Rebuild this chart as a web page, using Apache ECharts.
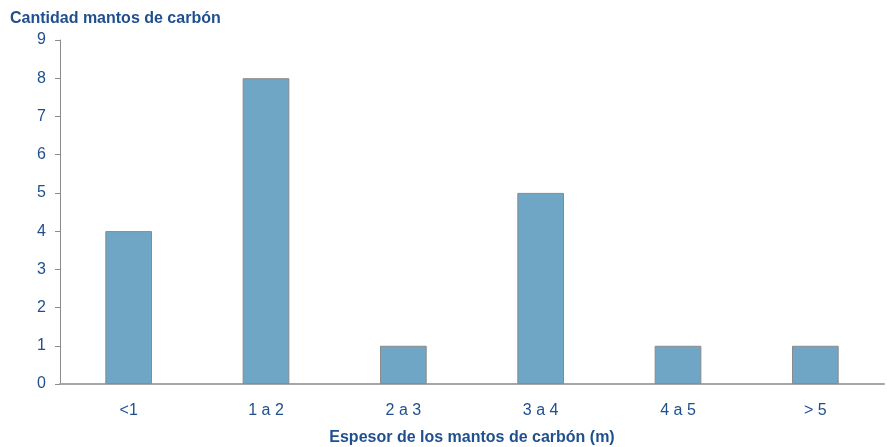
<!DOCTYPE html>
<html>
<head>
<meta charset="utf-8">
<script src="https://cdn.jsdelivr.net/npm/echarts@6/dist/echarts.min.js"></script>
<style>
  html, body { margin: 0; padding: 0; background: #fff; }
  #chart { width: 887px; height: 447px; }
</style>
</head>
<body>
<div id="chart"></div>
<script>
// Coal seam count by thickness class
const categories = ['<1', '1 a 2', '2 a 3', '3 a 4', '4 a 5', '> 5'];
const seamCounts = [4, 8, 1, 5, 1, 1];

const textBlue = '#1f4f8f';
const chart = echarts.init(document.getElementById('chart'));
chart.setOption({
  animation: false,
  textStyle: { fontFamily: 'Liberation Sans, Arial, sans-serif' },
  title: {
    text: 'Cantidad mantos de carbón',
    left: 5, top: 6,
    textStyle: { color: textBlue, fontSize: 16, fontWeight: 'bold', fontFamily: 'Liberation Sans, Arial, sans-serif' }
  },
  grid: { left: 60, right: 3, top: 40, bottom: 63, containLabel: false, outerBoundsMode: 'none' },
  xAxis: {
    type: 'category',
    data: categories,
    name: 'Espesor de los mantos de carbón (m)',
    nameLocation: 'middle',
    nameGap: 46,
    nameTextStyle: { color: textBlue, fontSize: 16, fontWeight: 'bold' },
    axisLine: { lineStyle: { color: '#a6a6a6', width: 2 } },
    axisTick: { show: false },
    axisLabel: { color: textBlue, fontSize: 16, margin: 19 }
  },
  yAxis: {
    type: 'value',
    min: 0, max: 9, interval: 1,
    axisLine: { show: true, lineStyle: { color: '#8c8c8c', width: 1 } },
    axisTick: { show: true, length: 5, lineStyle: { color: '#8c8c8c' } },
    splitLine: { show: false },
    axisLabel: { color: textBlue, fontSize: 16, margin: 14 }
  },
  series: [{
    type: 'bar',
    data: seamCounts,
    barWidth: '34%',
    itemStyle: { color: '#6fa6c6', borderColor: '#8a8a8a', borderWidth: 1 }
  }]
});
</script>
</body>
</html>
